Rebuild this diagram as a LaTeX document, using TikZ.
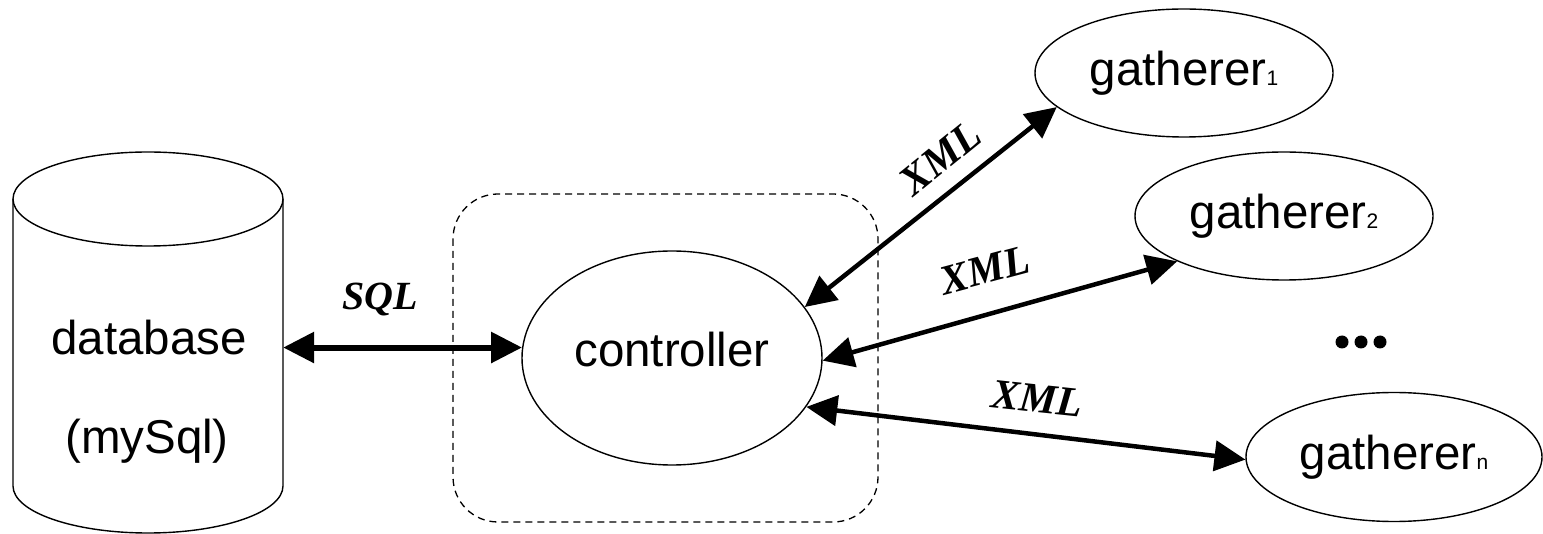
\documentclass[tikz,border=0pt]{standalone}
\usepackage{fontspec}
\setmainfont{Liberation Sans}
\newfontfamily\tagfont{Liberation Serif}
\usetikzlibrary{arrows.meta,shapes.geometric}
\newcommand\gsub[1]{{\fontsize{21}{21}\selectfont #1}}
\begin{document}
\begin{tikzpicture}[x=1pt,y=-1pt,
  outline/.style={draw=black, line width=1.4pt},
  proc/.style={outline, ellipse, inner sep=0pt},
  big/.style={font=\fontsize{47.5}{50}\selectfont},
  flow/.style={line width=4.5pt, {Triangle[length=31pt,width=30pt]}-{Triangle[length=31pt,width=30pt]}},
  tag/.style={font=\tagfont\bfseries\itshape\fontsize{42}{42}\selectfont, inner sep=0pt},
  groupbox/.style={draw=black, line width=1.3pt, dash pattern=on 7pt off 5pt, rounded corners=45pt},
]
\useasboundingbox (0,0) rectangle (1543,534);

% database cylinder
\node[minimum width=270pt, minimum height=381pt, inner sep=0pt] (db) at (148,342.5) {};
\draw[outline] (148,199) ellipse[x radius=135, y radius=47];
\draw[outline] (13,199) -- (13,486) arc[start angle=180, end angle=0, x radius=135, y radius=47] -- (283,199);
\node[big, anchor=base] (dbname) at (149,355) {database};
\node[big, anchor=base] (dbkind) at (147,454) {(mySql)};

% controller and its dashed frame
\draw[groupbox] (453,194) rectangle (878,522);
\node[proc, minimum width=300pt, minimum height=214pt, big, text height=33pt, text depth=15pt] (ctrl) at (672,358) {controller};

% gatherers
\node[proc, minimum width=298pt, minimum height=128pt, big] (g1) at (1184,73) {gatherer\gsub{1}};
\node[proc, minimum width=298pt, minimum height=128pt, big] (g2) at (1284,216) {gatherer\gsub{2}};
\node[proc, minimum width=296pt, minimum height=129pt, big] (gn) at (1394,457) {gatherer\gsub{n}};
\foreach \dx in {0,19,38} \fill (1342+\dx,342) circle[radius=6.5];

% connectors
\draw[flow, line width=6pt] (ctrl.176.5) -- (ctrl.176.5 -| db.east);
\draw[flow] (ctrl.21) -- (g1.195);
\draw[flow] (ctrl.-1.5) -- (g2.203.8);
\draw[flow] (ctrl.-20) -- (gn.181.6);

% connector labels
\node[tag, font=\tagfont\bfseries\itshape\fontsize{40}{40}\selectfont] (sql) at (380,300) {SQL};
\node[tag, rotate=39] (x1) at (940,158) {XML};
\node[tag, rotate=15] (x2) at (985,270) {XML};
\node[tag, rotate=-6] (x3) at (1037,399) {XML};
\end{tikzpicture}
\end{document}
